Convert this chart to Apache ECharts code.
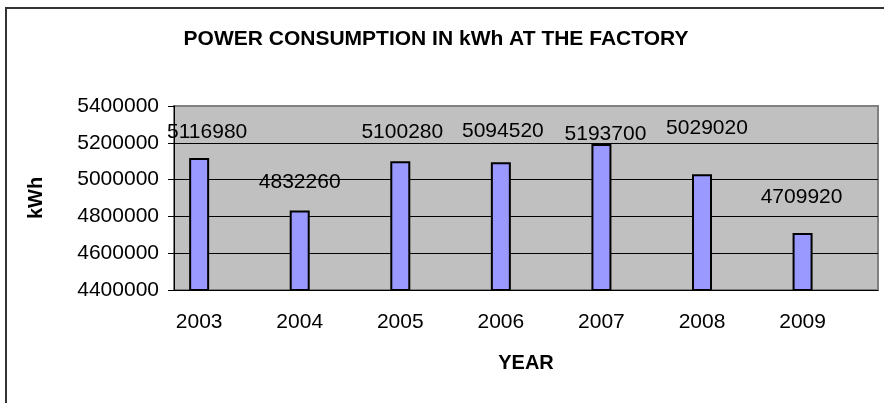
<!DOCTYPE html>
<html>
<head>
<meta charset="utf-8">
<script src="https://cdn.jsdelivr.net/npm/echarts@6/dist/echarts.min.js"></script>
<style>
  html, body { margin: 0; padding: 0; background: #fff; }
  #chart { width: 884px; height: 403px; }
</style>
</head>
<body>
<div id="chart"></div>
<script>
// data
var years = ["2003", "2004", "2005", "2006", "2007", "2008", "2009"];
var consumption = [5116980, 4832260, 5100280, 5094520, 5193700, 5029020, 4709920];
var yMin = 4400000;
var yMax = 5400000;
var yStep = 200000;

// label nudges (the labels in the original were dragged by hand)
var labelShift = [[8, -25], [0, -28], [2, -28], [2, -31], [4, -9], [5, -46], [-1, -35]];

var font = "'Liberation Sans', Arial, sans-serif";

// every year takes two slots on the axis, the second one empty
var categories = [];
var barData = [];
years.forEach(function (y, i) {
  categories.push(y, "");
  barData.push({
    value: consumption[i],
    label: { offset: [labelShift[i][0], labelShift[i][1] + 10] }
  }, "-");
});

var chart = echarts.init(document.getElementById("chart"));
chart.setOption({
  animation: false,
  backgroundColor: "#fff",
  title: {
    text: "POWER CONSUMPTION IN kWh AT THE FACTORY",
    left: 431,
    top: 24,
    textAlign: "center",
    textStyle: { fontFamily: font, fontSize: 21, fontWeight: "bold", color: "#000" }
  },
  graphic: [{
    type: "rect",
    shape: { x: 6, y: 8, width: 900, height: 420 },
    style: { fill: "none", stroke: "#333", lineWidth: 2 },
    silent: true
  }],
  grid: {
    left: 174,
    right: 6,
    top: 106,
    bottom: 113,
    show: true,
    backgroundColor: "#C0C0C0",
    borderColor: "#808080",
    borderWidth: 2
  },
  xAxis: {
    type: "category",
    data: categories,
    name: "YEAR",
    nameLocation: "middle",
    nameGap: 63,
    nameTextStyle: { fontFamily: font, fontSize: 20, fontWeight: "bold", color: "#000" },
    axisLine: { lineStyle: { color: "#000", width: 1 } },
    axisTick: { interval: 0, length: 5, lineStyle: { color: "#000" } },
    axisLabel: { interval: 0, margin: 22, fontFamily: font, fontSize: 21, color: "#000" }
  },
  yAxis: {
    type: "value",
    min: yMin,
    max: yMax,
    interval: yStep,
    name: "kWh",
    nameLocation: "middle",
    nameGap: 128,
    nameTextStyle: { fontFamily: font, fontSize: 20, fontWeight: "bold", color: "#000" },
    axisLine: { show: true, lineStyle: { color: "#000", width: 1 } },
    axisTick: { show: true, length: 6, lineStyle: { color: "#000" } },
    axisLabel: {
      margin: 15, fontFamily: font, fontSize: 21, color: "#000",
      formatter: function (v) { return String(v); }
    },
    splitLine: {
      lineStyle: { color: ["#000", "#000", "#000", "#000", "#000", "#808080"], width: 1 }
    }
  },
  series: [{
    type: "bar",
    data: barData,
    barWidth: 20,
    itemStyle: { color: "#9999FF", borderColor: "#000", borderWidth: 2 },
    label: {
      show: true,
      position: "top",
      distance: 0,
      fontFamily: font,
      fontSize: 21,
      color: "#000"
    }
  }]
});
</script>
</body>
</html>
